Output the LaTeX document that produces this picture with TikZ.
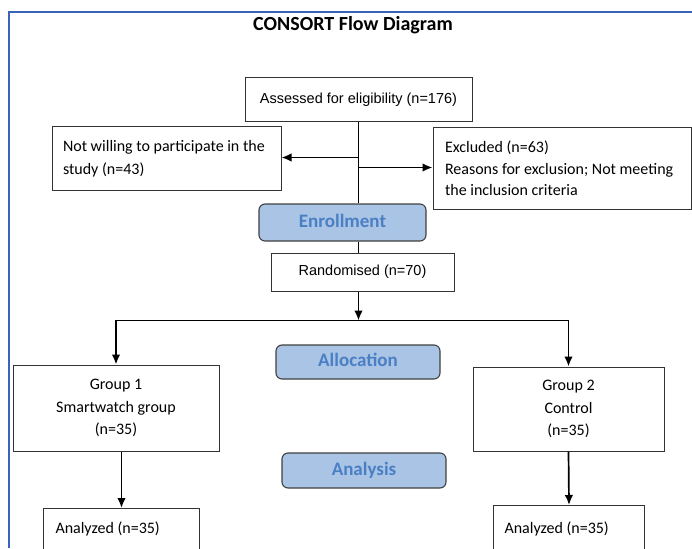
\documentclass[tikz,border=0pt]{standalone}
\usepackage{fontspec}
\setmainfont{Carlito}
\newfontfamily\arialfont{Liberation Sans}
\usepackage{tikz}
\usepackage{xcolor}
\usetikzlibrary{calc}
\usetikzlibrary{positioning}
\usetikzlibrary{arrows.meta}
\definecolor{phasefill}{RGB}{170,196,230}
\definecolor{phasetext}{RGB}{74,127,196}
\definecolor{frameblue}{RGB}{58,100,184}

\begin{document}
\begin{tikzpicture}[x=1pt, y=-1pt, ->, >={Latex[length=10pt,width=8.5pt]}, line width=1.7pt, font=\fontsize{16}{22.5}\selectfont]
	\tikzstyle{block}=[draw=black!80, line width=1pt, rectangle, fill=white, inner sep=0pt]
	\tikzstyle{arial}=[font=\arialfont\fontsize{14.5}{18}\selectfont]
	\tikzstyle{phase}=[draw=black!75, line width=1.1pt, fill=phasefill, rounded corners=6pt, text=phasetext, font=\bfseries\fontsize{19}{22}\selectfont, text height=13pt, text depth=4pt, inner sep=0pt]
	\tikzstyle{heading}=[anchor=base, font=\bfseries\fontsize{20}{24}\selectfont]
	\tikzstyle{frame}=[-, draw=frameblue, line width=2pt]
	
	\useasboundingbox (0,0) rectangle (692,548);
	\clip (0,0) rectangle (692,548);
	\draw[frame] (9,548) -- (9,12) -- (692,12);
	
	\node[heading] (title) at (353,31) {CONSORT Flow Diagram};
	\node[block, arial, minimum width=227pt, minimum height=44pt] (assess) at (358.5,100) {Assessed for eligibility (n=176)};
	\node[block, text width=207pt, inner xsep=11pt, minimum height=63pt, align=flush left] (notwill) at (166.5,158.5) {\mbox{Not willing to participate in the}\\ \mbox{study (n=43)}};
	\node[block, text width=234pt, inner xsep=12pt, minimum height=81pt, align=flush left, font=\fontsize{16}{21.5}\selectfont] (excl) at (562,168.5) {\mbox{Excluded (n=63)}\\ \mbox{Reasons for exclusion; Not meeting}\\ \mbox{the inclusion criteria}};
	\node[phase, minimum width=167pt, minimum height=37pt] (enroll) at (342.5,222.5) {Enrollment};
	\node[block, arial, minimum width=183pt, minimum height=38pt] (random) at (362.5,272) {Randomised (n=70)};
	\node[phase, minimum width=164pt, minimum height=34pt] (alloc) at (358,362) {Allocation};
	\node[block, minimum width=206pt, minimum height=86pt, align=center] (grp1) at (116,408) {Group 1\\ Smartwatch group\\ (n=35)};
	\node[block, minimum width=191pt, minimum height=84pt, align=center] (grp2) at (568.5,409) {Group 2\\ Control\\ (n=35)};
	\node[phase, minimum width=164pt, minimum height=35pt] (analys) at (364,470.5) {Analysis};
	\node[block, anchor=north west, text width=132pt, inner xsep=12pt, inner ysep=10pt, text height=15pt, text depth=40pt, align=flush left] (ana1) at (43,508) {\mbox{Analyzed (n=35)}};
	\node[block, anchor=north west, text width=129pt, inner xsep=11pt, inner ysep=10pt, text height=18pt, text depth=40pt, align=flush left] (ana2) at (493,505) {\mbox{Analyzed (n=35)}};
	
	\coordinate (splitl) at ($(assess.south)+(0,35)$);
	\coordinate (splitr) at ($(assess.south)+(0,45)$);
	\coordinate (fork) at ($(assess.south)+(0,198)$);
	
	\path[-] (assess.south) edge (assess.south |- enroll.north);
	\path[-] (assess.south |- enroll.south) edge (assess.south |- random.north);
	\path (splitl) edge (splitl -| notwill.east);
	\path (splitr) edge (splitr -| excl.west);
	\path (assess.south |- random.south) edge (fork);
	\draw (fork) -| (grp1.north);
	\draw (fork) -| (grp2.north);
	\path (grp1.south -| ana1.north) edge (ana1.north);
	\path (grp2.south) edge (ana2.north);
\end{tikzpicture}
\end{document}
